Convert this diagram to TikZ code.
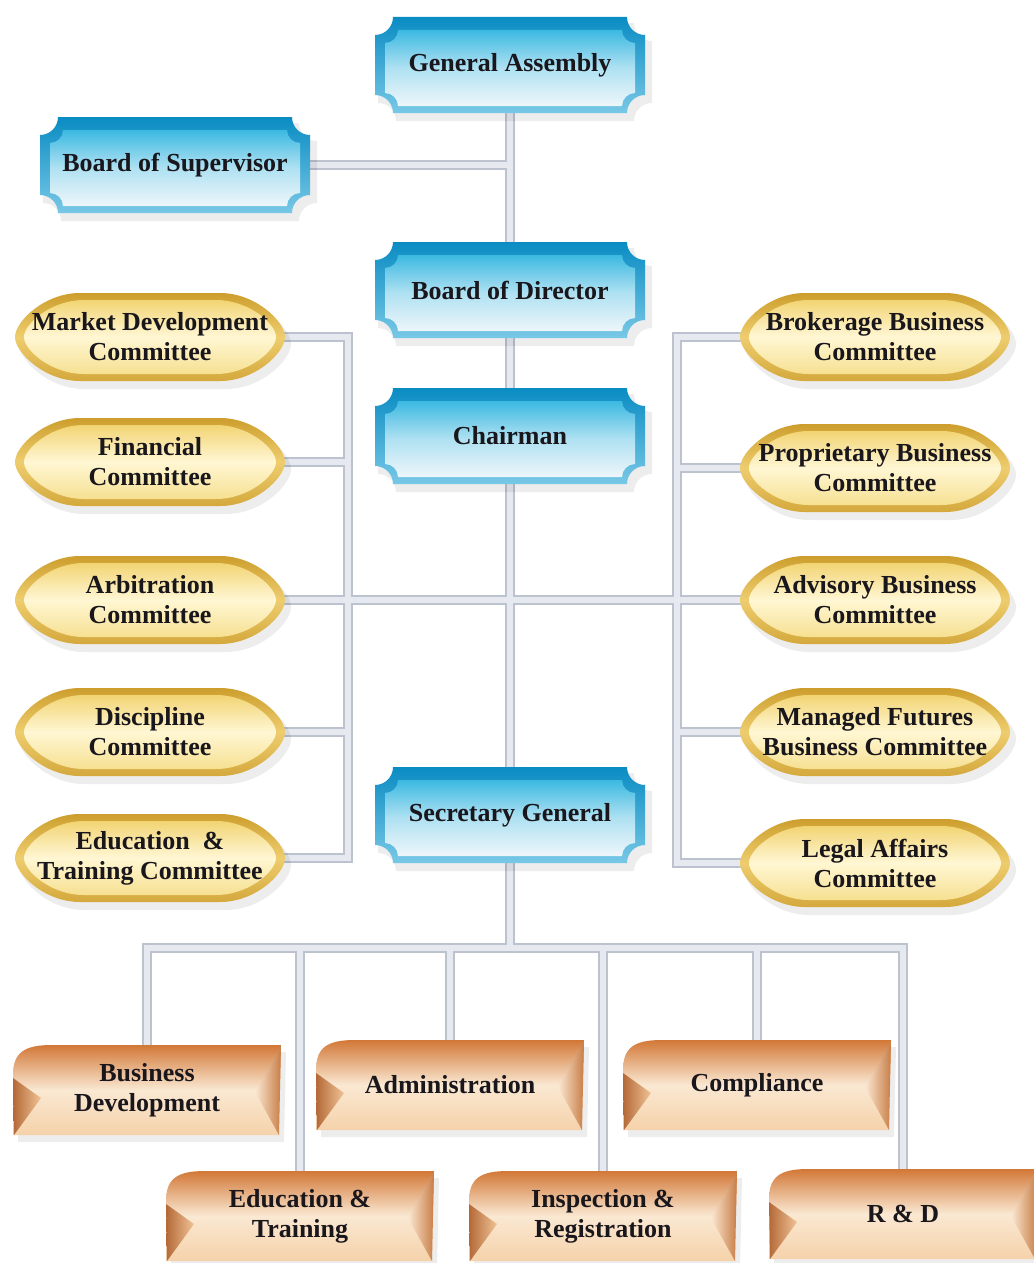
\documentclass[tikz,border=0pt]{standalone}
\usepackage{fontspec}
\setmainfont{Liberation Serif}
\usetikzlibrary{calc}
\pgfdeclarelayer{bg}
\pgfdeclarelayer{shp}
\pgfsetlayers{bg,shp,main}

\definecolor{txt}{RGB}{25,22,28}
\definecolor{bA}{RGB}{10,140,195}
\definecolor{bB}{RGB}{120,200,230}
\definecolor{bC}{RGB}{60,185,225}
\definecolor{bD}{RGB}{175,225,242}
\definecolor{bE}{RGB}{238,246,250}
\definecolor{yA}{RGB}{205,158,45}
\definecolor{yB}{RGB}{238,205,110}
\definecolor{yC}{RGB}{212,168,60}
\definecolor{yD}{RGB}{242,212,115}
\definecolor{yE}{RGB}{255,247,212}
\definecolor{yF}{RGB}{246,224,145}
\definecolor{oA}{RGB}{210,120,55}
\definecolor{oB}{RGB}{250,232,210}
\definecolor{oC}{RGB}{245,210,170}
\definecolor{oL}{RGB}{180,105,55}
\definecolor{oR}{RGB}{200,125,70}
\definecolor{oF}{RGB}{240,195,150}
\definecolor{cA}{RGB}{188,194,206}
\definecolor{cB}{RGB}{230,233,239}

\newcommand\ticketpath[3]{(-#1+#3,#2) -- (#1-#3,#2) arc (180:270:#3) -- (#1,-#2+#3) arc (90:180:#3) -- (-#1+#3,-#2) arc (0:90:#3) -- (-#1,#2-#3) arc (270:360:#3) -- cycle}
% lens: half width, half height, taper length
\newcommand\lenspath[3]{(-#1,0) .. controls (-#1,0.35*#2) and (-#1+0.45*#3,#2) .. (-#1+#3,#2) -- (#1-#3,#2) .. controls (#1-0.45*#3,#2) and (#1,0.35*#2) .. (#1,0) .. controls (#1,-0.35*#2) and (#1-0.45*#3,-#2) .. (#1-#3,-#2) -- (-#1+#3,-#2) .. controls (-#1+0.45*#3,-#2) and (-#1,-0.35*#2) .. (-#1,0) -- cycle}
\newcommand\orpath{(-134,-45) -- (-134,15) .. controls (-134,38) and (-122,45) .. (-95,45) -- (134,45) -- (132,-45) -- cycle}

\newcommand\blueshape[1]{%
  \begin{scope}[shift={(#1.center)},x=1pt,y=1pt]
    \fill[black,opacity=.07,shift={(5,-7)}] \ticketpath{137}{49}{18};
    \shade[top color=bA,bottom color=bB] \ticketpath{135}{48}{18};
    \shade[top color=bC,bottom color=bE,middle color=bD,shift={(0,-3)}] \ticketpath{125}{38}{13};
  \end{scope}}
\newcommand\yellowshape[1]{%
  \begin{scope}[shift={(#1.center)},x=1pt,y=1pt]
    \fill[black,opacity=.07,shift={(5,-7)}] \lenspath{136}{45}{65};
    \shade[top color=yA,bottom color=yC,middle color=yB] \lenspath{135}{44}{65};
    \shade[top color=yD,bottom color=yF,middle color=yE] \lenspath{126}{37}{60};
  \end{scope}}
\newcommand\orangeshape[1]{%
  \begin{scope}[shift={(#1.center)},x=1pt,y=1pt]
    \fill[black,opacity=.07,shift={(5,-7)}] \orpath;
    \shade[top color=oA,bottom color=oC,middle color=oB] \orpath;
    \shade[left color=oL,right color=oF] (-134,12) -- (-106,-8) -- (-133,-45) -- cycle;
    \shade[left color=oB,right color=oR] (134,45) -- (108,-2) -- (132,-45) -- cycle;
  \end{scope}}

\tikzset{
  base/.style={inner sep=0pt,align=center,text=txt,font=\bfseries\fontsize{26}{30}\selectfont},
  bluen/.style={base,minimum width=270pt,minimum height=96pt},
  yelln/.style={base,minimum width=270pt,minimum height=88pt},
  orn/.style={base,minimum width=268pt,minimum height=90pt},
  connA/.style={draw=cA,line width=10pt,line cap=rect},
  connB/.style={draw=cB,line width=6pt,line cap=rect}
}

\newcommand\connpaths[1]{%
  \draw[#1] (ga.center) -- (sg.center) -- (bus);
  \draw[#1] (bs.center) -- (bs.center -| ga.center);
  \draw[#1] (l1.center) -- (l1.center -| lx) -- (l5.center -| lx) -- (l5.center);
  \draw[#1] (l2.center) -- (l2.center -| lx);
  \draw[#1] (l4.center) -- (l4.center -| lx);
  \draw[#1] (l3.center) -- (r3.center);
  \draw[#1] (r1.center) -- (r1.center -| rx) -- (r5.center -| rx) -- (r5.center);
  \draw[#1] (r2.center) -- (r2.center -| rx);
  \draw[#1] (r4.center) -- (r4.center -| rx);
  \draw[#1] (o1.center) -- (o1.center |- bus) -- (o6.center |- bus) -- (o6.center);
  \draw[#1] (o2.center) -- (o2.center |- bus);
  \draw[#1] (o3.center) -- (o3.center |- bus);
  \draw[#1] (o4.center) -- (o4.center |- bus);
  \draw[#1] (o5.center) -- (o5.center |- bus);
}

\begin{document}
\begin{tikzpicture}[x=1pt,y=-1pt]
\useasboundingbox (0,0) rectangle (1033,1263);

% blue boxes
\node[bluen] (ga) at (510,65) {General Assembly};
\node[bluen] (bs) at (175,165) {Board of Supervisor};
\node[bluen] (bd) at (510,290) {Board of Director};
\node[bluen] (ch) at (510,436) {Chairman};
\node[bluen] (sg) at (510,815) {Secretary General};

% committees left
\node[yelln] (l1) at (150,337) {Market Development\\Committee};
\node[yelln] (l2) at (150,462) {Financial\\Committee};
\node[yelln] (l3) at (150,600) {Arbitration\\Committee};
\node[yelln] (l4) at (150,732) {Discipline\\Committee};
\node[yelln] (l5) at (150,858) {Education\enspace\&\\Training Committee};
% committees right
\node[yelln] (r1) at (875,337) {Brokerage Business\\Committee};
\node[yelln] (r2) at (875,468) {Proprietary Business\\Committee};
\node[yelln] (r3) at (875,600) {Advisory Business\\Committee};
\node[yelln] (r4) at (875,732) {Managed Futures\\Business Committee};
\node[yelln] (r5) at (875,863) {Legal Affairs\\Committee};

% departments
\node[orn] (o1) at (147,1090) {Business\\Development};
\node[orn] (o2) at (300,1216) {Education \&\\Training};
\node[orn] (o3) at (450,1085) {Administration};
\node[orn] (o4) at (603,1216) {Inspection \&\\Registration};
\node[orn] (o5) at (757,1085) {Compliance};
\node[orn] (o6) at (903,1214) {R \& D};

\coordinate (bus) at (510,948);
\coordinate (lx) at (348,0);
\coordinate (rx) at (677,0);

\begin{pgfonlayer}{shp}
  \foreach \n in {ga,bs,bd,ch,sg} {\blueshape{\n}}
  \foreach \n in {l1,l2,l3,l4,l5,r1,r2,r3,r4,r5} {\yellowshape{\n}}
  \foreach \n in {o1,o2,o3,o4,o5,o6} {\orangeshape{\n}}
\end{pgfonlayer}

\begin{pgfonlayer}{bg}
  \fill[white] (0,0) rectangle (1033,1263);
  \connpaths{connA}
  \connpaths{connB}
\end{pgfonlayer}
\end{tikzpicture}
\end{document}
